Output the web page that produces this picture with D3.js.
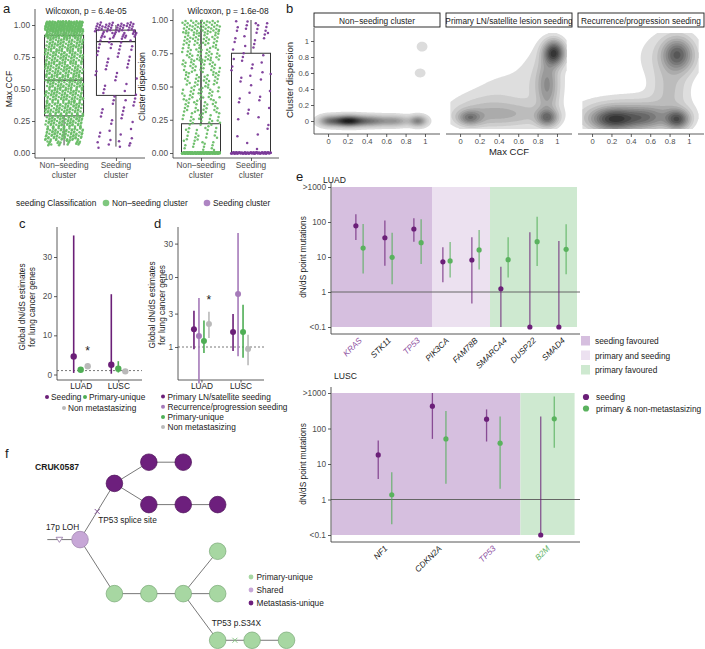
<!DOCTYPE html>
<html><head><meta charset="utf-8">
<script src="https://cdn.jsdelivr.net/npm/d3@7/dist/d3.min.js"></script>
<style>html,body{margin:0;padding:0;background:#fff;} svg{display:block}</style>
</head><body>
<svg id="chart" width="705" height="649" xmlns="http://www.w3.org/2000/svg"></svg>
<script>
// ================= DATA =================
// ---- panel a
const aCategories = ["Non-seeding cluster", "Seeding cluster"];
const aCategoryLines = [["Non\u2013seeding", "cluster"], ["Seeding", "cluster"]];
const aTickValues = [0, 0.25, 0.5, 0.75, 1];
const aTickLabels = ["0.00", "0.25", "0.50", "0.75", "1.00"];
const aTitles = ["Wilcoxon, p = 6.4e-05", "Wilcoxon, p = 1.6e-08"];
const aYLabels = ["Max CCF", "Cluster dispersion"];
// box stats: [lower whisker, Q1, median, Q3, upper whisker]
const maxCcfBoxNonSeeding = [0.06, 0.29, 0.57, 0.92, 1.0];
const maxCcfBoxSeeding    = [0.05, 0.45, 0.87, 0.96, 1.0];
const dispBoxNonSeeding   = [0, 0, 0, 0.22, 1.0];
const dispBoxSeeding      = [0, 0, 0, 0.75, 1.0];
// clusters per value bin: [from, to, count]
const maxCcfBinsNonSeeding = [[0.06,0.1,22],[0.1,0.2,85],[0.2,0.3,85],[0.3,0.4,85],[0.4,0.5,85],[0.5,0.6,85],[0.6,0.7,85],[0.7,0.8,85],[0.8,0.9,90],[0.9,0.95,70],[0.95,1.03,230]];
const maxCcfBinsSeeding    = [[0.04,0.1,7],[0.1,0.2,7],[0.2,0.3,6],[0.3,0.4,7],[0.4,0.5,8],[0.5,0.6,5],[0.6,0.7,7],[0.7,0.8,8],[0.8,0.9,14],[0.9,0.95,20],[0.95,1.02,40]];
const dispBinsNonSeeding   = [[-0.004,0.004,250],[0.02,0.1,14],[0.1,0.2,18],[0.2,0.3,24],[0.3,0.4,26],[0.4,0.5,28],[0.5,0.6,30],[0.6,0.7,32],[0.7,0.8,34],[0.8,0.9,38],[0.9,1.0,50]];
const dispBinsSeeding      = [[-0.004,0.004,120],[0.02,0.1,2],[0.1,0.2,3],[0.2,0.3,4],[0.3,0.4,4],[0.4,0.5,4],[0.5,0.6,6],[0.6,0.7,7],[0.7,0.8,6],[0.8,0.9,8],[0.9,1.0,14]];
const aLegendTitle = "seeding Classification";
const aLegendLabels = ["Non\u2013seeding cluster", "Seeding cluster"];

// ---- panel b (2D density of Max CCF vs Cluster dispersion)
const bFacets = ["Non\u2212seeding cluster", "Primary LN/satellite lesion seeding", "Recurrence/progression seeding"];
const bTicks = [0, 0.2, 0.4, 0.6, 0.8, 1];
const bTickLabels = ["0", "0.2", "0.4", "0.6", "0.8", "1"];
// density modes: [max CCF, dispersion, sd x, sd y, weight]
const bModesNonSeeding = [[0.2,0,0.11,0.045,1.0],[0.45,0,0.12,0.045,0.5],[0.7,0,0.1,0.045,0.35],[0.93,0,0.06,0.045,0.5],[0.0,0,0.07,0.045,0.4],[0.97,0.93,0.045,0.05,0.08],[0.95,0.6,0.045,0.045,0.08]];
const bModesPrimaryLN  = [[0.97,0.85,0.07,0.1,1.0],[0.9,0.45,0.07,0.22,0.4],[0.9,0.04,0.07,0.07,0.6],[0.1,0.04,0.08,0.06,0.5],[0.45,0.08,0.3,0.1,0.25],[0.45,0.4,0.2,0.2,0.07],[0.85,0.5,0.18,0.35,0.12],[0.2,0.15,0.25,0.18,0.12]];
const bModesRecurrence = [[0.22,0.02,0.15,0.09,1.0],[0.88,0.02,0.08,0.08,0.9],[0.88,0.83,0.1,0.13,0.8],[0.55,0.04,0.15,0.09,0.55],[0.4,0.1,0.4,0.15,0.25],[0.8,0.4,0.12,0.2,0.2],[0.8,0.8,0.25,0.25,0.15]];

// ---- panel c
const cGroups = ["LUAD", "LUSC"];
const cSeries = ["Seeding", "Primary-unique", "Non metastasizing"];
const cTicks = [0, 10, 20, 30];
const cLUADest = [4.6, 1.2, 2.1];
const cLUADlo  = [0.4, 0.9, 1.5];
const cLUADhi  = [35.5, 1.6, 2.9];
const cLUSCest = [2.5, 1.5, 0.8];
const cLUSClo  = [0.2, 0.5, 0.55];
const cLUSChi  = [20.5, 3.4, 1.05];

// ---- panel d
const dSeries = ["Primary LN/satellite seeding", "Recurrence/progression seeding", "Primary-unique", "Non metastasizing"];
const dTicks = [1, 3, 10, 30];
const dLUADest = [1.8, 1.44, 1.22, 2.13];
const dLUADlo  = [0.93, 0.3, 0.82, 1.35];
const dLUADhi  = [3.3, 5.0, 2.4, 3.2];
const dLUSCest = [1.64, 5.7, 1.64, 0.94];
const dLUSClo  = [0.88, 0.74, 0.70, 0.55];
const dLUSChi  = [2.96, 42.5, 4.0, 1.5];

// ---- panel e
const eTickValues = [0.1, 1, 10, 100, 1000];
const eTickLabels = ["<0.1", "1", "10", "100", ">1000"];
const eRegionNames = ["seeding favoured", "primary and seeding", "primary favoured"];
const eLUADgenes = ["KRAS", "STK11", "TP53", "PIK3CA", "FAM78B", "SMARCA4", "DUSP22", "SMAD4"];
const eLUADgeneClass = ["seed", "none", "seed", "none", "none", "none", "none", "none"];
const eLUADregions = [[-1, 2.5, 0], [2.5, 4.5, 1], [4.5, 7.5, 2]];
const eLUADseedEst = [78, 35.5, 63, 7.3, 8.2, 1.24, 0.1, 0.1];
const eLUADseedLo  = [30.6, 5.6, 27.3, 1.9, 0.47, 0.1, 0.1, 0.1];
const eLUADseedHi  = [166, 110, 127, 19, 36.5, 5.3, 51, 28.5];
const eLUADprimEst = [18, 9.8, 25.7, 7.7, 15.9, 8.4, 27.4, 16.6];
const eLUADprimLo  = [3.4, 1.66, 6.3, 2.6, 4.4, 2.6, 5.5, 3.2];
const eLUADprimHi  = [88, 49, 120, 27, 59, 36.5, 142, 86];
const eLUSCgenes = ["NF1", "CDKN2A", "TP53", "B2M"];
const eLUSCgeneClass = ["none", "none", "seed", "prim"];
const eLUSCregions = [[-1, 2.5, 0], [2.5, 3.5, 2]];
const eLUSCseedEst = [18, 425, 183, 0.1];
const eLUSCseedLo  = [3.8, 51, 43, 0.1];
const eLUSCseedHi  = [46, 1000, 345, 218];
const eLUSCprimEst = [1.36, 51, 38.5, 187];
const eLUSCprimLo  = [0.2, 2.8, 2.0, 28.6];
const eLUSCprimHi  = [5.9, 310, 218, 800];
const eLegendPoints = ["seeding", "primary & non-metastasizing"];

// ---- panel f (phylogenetic tree CRUK0587)
const fNodeIds  = ["S","A","B","C","D","E","F","G","H","I","J","K","L","M","N"];
const fParents  = [null,"S","A","B","A","D","E","S","G","H","I","I","I","L","M"];
const fTypes    = ["Shared","Metastasis-unique","Metastasis-unique","Metastasis-unique","Metastasis-unique","Metastasis-unique","Metastasis-unique","Primary-unique","Primary-unique","Primary-unique","Primary-unique","Primary-unique","Primary-unique","Primary-unique","Primary-unique"];
const fDepth    = [0,1,2,3,2,3,4,1,2,3,4,4,4,5,6];
const fLane     = [4.65,2,1,1,3,3,3,7.2,7.2,7.2,5.2,7.2,9.4,9.4,9.4];
const fEvents   = [{child:"S", label:"17p LOH", mark:"triangle"}, {child:"A", label:"TP53 splice site", mark:"cross"}, {child:"L", label:"TP53 p.S34X", mark:null}, {child:"M", label:null, mark:"cross"}];
const fLegend = ["Primary-unique", "Shared", "Metastasis-unique"];

// ================= DRAWING =================
const svg = d3.select("#chart");
const FONT = "'Liberation Sans', Arial, Helvetica, sans-serif";
const TXT = "#1a1a1a", TICK = "#4d4d4d", AX = "#333";
const GREEN_PT = "#69bd67", PURPLE_PT = "#7b3a98";
const DPURP = "#6b1f78", LPURP = "#a57ab9", GREEN = "#4fae55", GREY = "#b9b9b9";
const frac = v => v - Math.floor(v);

function txt(g, x, y, s, o = {}) {
  return g.append("text").attr("x", x).attr("y", y).text(s)
    .attr("font-family", FONT).attr("font-size", o.size || 8.3)
    .attr("fill", o.fill || TXT).attr("text-anchor", o.anchor || "start")
    .attr("font-weight", o.weight || null).attr("font-style", o.style || null);
}
function line(g, x1, y1, x2, y2, col = AX, w = 0.8, dash = null) {
  return g.append("line").attr("x1", x1).attr("y1", y1).attr("x2", x2).attr("y2", y2)
    .attr("stroke", col).attr("stroke-width", w).attr("stroke-dasharray", dash);
}
function styleAxis(ax, fs) {
  ax.select(".domain").remove();
  ax.selectAll(".tick line").attr("stroke", AX).attr("stroke-width", 0.8);
  ax.selectAll(".tick text").attr("fill", TICK).attr("font-size", fs).attr("font-family", FONT);
}

// panel labels
[["a",3,13],["b",286,13],["c",19,228],["d",154,228],["e",296,181],["f",5,458]].forEach(([l,x,y]) => txt(svg, x, y, l, {size: 13}));

// ---------- panel a ----------
function drawA(o) {
  const g = svg.append("g");
  const x = d3.scalePoint().domain(aCategories).range(o.xr).padding(0.56);
  const y = d3.scaleLinear().domain([0, 1]).range(o.yr);
  line(g, o.xr[0], o.top, o.xr[0], o.base);
  line(g, o.xr[0], o.base, o.xr[1], o.base);
  styleAxis(g.append("g").attr("transform", `translate(${o.xr[0]},0)`)
    .call(d3.axisLeft(y).tickValues(aTickValues).tickFormat((d, i) => aTickLabels[i]).tickSize(3).tickPadding(2)), 8.3);
  styleAxis(g.append("g").attr("transform", `translate(0,${o.base})`)
    .call(d3.axisBottom(x).tickSize(3).tickFormat("")), 8);
  aCategories.forEach((c, i) => {
    txt(g, x(c), o.base + 10, aCategoryLines[i][0], {anchor: "middle", fill: TICK});
    txt(g, x(c), o.base + 20, aCategoryLines[i][1], {anchor: "middle", fill: TICK});
  });
  o.boxes.forEach((b, i) => {
    const cx = x(aCategories[i]), hw = o.bw / 2;
    line(g, cx, y(b[0]), cx, y(b[1]), "#444", 1);
    line(g, cx, y(b[3]), cx, y(b[4]), "#444", o.upperW ? o.upperW[i] : 1);
    g.append("rect").attr("x", cx - hw).attr("y", y(b[3])).attr("width", o.bw).attr("height", Math.max(0.5, y(b[1]) - y(b[3])))
      .attr("fill", "none").attr("stroke", "#333").attr("stroke-width", 1);
    line(g, cx - hw, y(b[2]), cx + hw, y(b[2]), "#333", 1.2);
  });
  o.bins.forEach((bins, i) => {
    const cx = x(aCategories[i]); let k = 0;
    const pts = [];
    bins.forEach(([lo, hi, n]) => { for (let m = 0; m < n; m++) { k++; pts.push([cx + (frac(0.31 + k * 0.7548776662) * 2 - 1) * o.jw[i], y(lo + (hi - lo) * frac(0.17 + k * 0.5698402910))]); } });
    g.selectAll(null).data(pts).join("circle").attr("cx", d => d[0]).attr("cy", d => d[1]).attr("r", 1.25)
      .attr("fill", o.colors[i]).attr("opacity", 0.95);
  });
  txt(g, o.titleX, 14, o.title, {anchor: "middle", size: 8.4});
  txt(g, 0, 0, o.ylab, {anchor: "middle", size: 8.6}).attr("transform", `translate(${o.ylabX},${(o.yr[0] + o.yr[1]) / 2}) rotate(-90)`);
}
drawA({xr: [35, 145], yr: [153, 25], top: 9, base: 158, bw: 39, jw: [19, 21], boxes: [maxCcfBoxNonSeeding, maxCcfBoxSeeding],
  bins: [maxCcfBinsNonSeeding, maxCcfBinsSeeding], colors: [GREEN_PT, PURPLE_PT], title: aTitles[0], titleX: 86, ylab: aYLabels[0], ylabX: 12});
drawA({xr: [173, 279], yr: [153, 20], top: 9, base: 158, bw: 39, jw: [19, 20], upperW: [1.6, 1], boxes: [dispBoxNonSeeding, dispBoxSeeding],
  bins: [dispBinsNonSeeding, dispBinsSeeding], colors: [GREEN_PT, PURPLE_PT], title: aTitles[1], titleX: 228, ylab: aYLabels[1], ylabX: 145});

// legend a
{
  const g = svg.append("g");
  txt(g, 16, 206, aLegendTitle);
  const xs = [106, 207];
  aLegendLabels.forEach((l, i) => {
    g.append("circle").attr("cx", xs[i]).attr("cy", 203).attr("r", 3.3).attr("fill", [GREEN_PT, "#a070b8"][i]).attr("opacity", 0.85);
    txt(g, xs[i] + 6, 206, l);
  });
}

// ---------- panel b ----------
function drawB(i, modes, opt) {
  const g = svg.append("g");
  const left = [314, 446, 578][i], W = 126;
  const x = d3.scaleLinear().domain([-0.145, 1.155]).range([left, left + W]);
  const y = d3.scaleLinear().domain([-0.1625, 1.1625]).range([134, 28]);
  const [gx0, gx1, gy0, gy1] = opt.grid, nx = opt.n, ny = opt.n;
  const vals = new Float64Array(nx * ny);
  for (let j = 0; j < ny; j++) {
    const yy = gy1 - (j + 0.5) / ny * (gy1 - gy0);
    for (let k = 0; k < nx; k++) {
      const xx = gx0 + (k + 0.5) / nx * (gx1 - gx0);
      let s = 0;
      for (const m of modes) { const dx = (xx - m[0]) / m[2], dy = (yy - m[1]) / m[3]; s += m[4] * Math.exp(-0.5 * (dx * dx + dy * dy)); }
      vals[j * nx + k] = s;
    }
  }
  const mx = d3.max(vals);
  const th = opt.levels.map(f => f * mx);
  const cs = d3.contours().size([nx, ny]).thresholds(th)(vals);
  const proj = d3.geoTransform({point(px, py) { this.stream.point(x(gx0 + px / nx * (gx1 - gx0)), y(gy1 - py / ny * (gy1 - gy0))); }});
  const path = d3.geoPath(proj);
  const col = d3.interpolateRgb(opt.c0, opt.c1);
  g.selectAll(null).data(cs).join("path").attr("d", path).attr("fill", (d, k) => col(k / (th.length - 1))).attr("stroke", "none");
  const cid = "clipStrip" + i;
  svg.append("clipPath").attr("id", cid).append("rect").attr("x", left).attr("y", 13).attr("width", W).attr("height", 14);
  g.append("rect").attr("x", left).attr("y", 13).attr("width", W).attr("height", 14).attr("fill", "#fff").attr("stroke", "#1a1a1a").attr("stroke-width", 0.9);
  txt(g, left + W / 2, 23.5, bFacets[i], {anchor: "middle", size: 8.3}).attr("clip-path", `url(#${cid})`);
  line(g, left, 134, left + W, 134);
  styleAxis(g.append("g").attr("transform", "translate(0,134)").call(d3.axisBottom(x).tickValues(bTicks).tickFormat((d, k) => bTickLabels[k]).tickSize(3).tickPadding(2)), 7.6);
  if (i === 0) {
    line(g, left, 28, left, 134);
    styleAxis(g.append("g").attr("transform", `translate(${left},0)`).call(d3.axisLeft(y).tickValues(bTicks).tickFormat((d, k) => bTickLabels[k]).tickSize(3).tickPadding(2)), 7.6);
  }
}
drawB(0, bModesNonSeeding, {grid: [-0.145, 1.155, -0.16, 1.16], n: 160, levels: d3.range(20).map(k => 0.035 + k * 0.048), c0: "#dcdcdc", c1: "#1c1c1c"});
const bLevels = [0.06, 0.12, 0.19, 0.27, 0.35, 0.44, 0.53, 0.62, 0.72, 0.82, 0.92];
drawB(1, bModesPrimaryLN, {grid: [-0.1, 1.1, -0.1, 1.1], n: 110, levels: bLevels, c0: "#dedede", c1: "#353535"});
drawB(2, bModesRecurrence, {grid: [-0.1, 1.1, -0.1, 1.1], n: 110, levels: bLevels, c0: "#dedede", c1: "#353535"});
txt(svg, 509, 155, "Max CCF", {anchor: "middle", size: 9.5});
txt(svg, 0, 0, "Cluster dispersion", {anchor: "middle", size: 9.5}).attr("transform", "translate(293,80) rotate(-90)");

// ---------- panel c & d ----------
function drawCD(o) {
  const g = svg.append("g");
  const x = d3.scalePoint().domain(cGroups).range(o.xr).padding(o.pad);
  const y = o.y;
  line(g, o.xr[0], 227, o.xr[0], 380);
  line(g, o.xr[0], 380, o.xr[1], 380);
  styleAxis(g.append("g").attr("transform", `translate(${o.xr[0]},0)`).call(d3.axisLeft(y).tickValues(o.ticks).tickFormat(d3.format("d")).tickSize(3).tickPadding(2)), 8.3);
  const xa = g.append("g").attr("transform", "translate(0,380)").call(d3.axisBottom(x).tickSize(2.5).tickPadding(1));
  styleAxis(xa, 8.3);
  xa.selectAll(".tick text").attr("fill", TXT);
  line(g, o.xr[0], y(1), o.xr[1], y(1), "#555", 0.8, "2,2");
  cGroups.forEach((grp, gi) => {
    const est = o.est[gi], lo = o.lo[gi], hi = o.hi[gi];
    est.forEach((v, si) => {
      const cx = x(grp) + o.off[si];
      line(g, cx, y(lo[si]), cx, y(hi[si]), o.colors[si], 1.6);
      g.append("circle").attr("cx", cx).attr("cy", y(v)).attr("r", o.r).attr("fill", o.colors[si]);
    });
  });
  txt(g, x("LUAD") + o.off[o.starIdx], y(o.starAt), "*", {anchor: "middle", size: 12});
  txt(g, 0, 0, "Global dN/dS estimates", {anchor: "middle", size: 8.3}).attr("transform", `translate(${o.labX},${o.labY}) rotate(-90)`);
  txt(g, 0, 0, "for lung cancer genes", {anchor: "middle", size: 8.3}).attr("transform", `translate(${o.labX + 9.5},${o.labY}) rotate(-90)`);
}
drawCD({xr: [57, 142], pad: 0.63, y: d3.scaleLinear().domain([0, 30]).range([374.5, 257]), ticks: cTicks,
  est: [cLUADest, cLUSCest], lo: [cLUADlo, cLUSClo], hi: [cLUADhi, cLUSChi], off: [-7, 0, 7], r: 3.2,
  colors: [DPURP, GREEN, GREY], starIdx: 2, starAt: 2.1 + 2.8, labX: 25, labY: 307});
drawCD({xr: [178, 264], pad: 0.6, y: d3.scaleLog().domain([1, 10]).range([347, 277]), ticks: dTicks,
  est: [dLUADest, dLUSCest], lo: [dLUADlo, dLUSClo], hi: [dLUADhi, dLUSChi], off: [-7.5, -2.5, 2.5, 7.5], r: 3,
  colors: [DPURP, LPURP, GREEN, GREY], starIdx: 3, starAt: 4.1, labX: 155, labY: 305});
{
  const g = svg.append("g");
  g.append("circle").attr("cx", 47).attr("cy", 397).attr("r", 2).attr("fill", DPURP); txt(g, 51, 400, cSeries[0]);
  g.append("circle").attr("cx", 85).attr("cy", 397).attr("r", 2).attr("fill", GREEN); txt(g, 89, 400, cSeries[1]);
  g.append("circle").attr("cx", 64).attr("cy", 408).attr("r", 2).attr("fill", GREY); txt(g, 68, 411, cSeries[2]);
  const cols = [DPURP, LPURP, GREEN, GREY];
  dSeries.forEach((s, i) => {
    const yy = 396.5 + i * 10.2;
    g.append("circle").attr("cx", 163).attr("cy", yy).attr("r", 2).attr("fill", cols[i]);
    txt(g, 167.5, yy + 3, s);
  });
}

// ---------- panel e ----------
const regionFill = ["#d6bfdf", "#ece1f0", "#cee9d0"];
function drawE(o) {
  const g = svg.append("g");
  const x = d3.scaleLinear().domain([0, o.genes.length - 1]).range(o.xr);
  const y = d3.scaleLog().domain([0.1, 1000]).range(o.yr).clamp(true);
  o.regions.forEach(([a, b, t]) => {
    const x0 = Math.max(x(a), o.axX + 0.5);
    g.append("rect").attr("x", x0).attr("y", y(1000)).attr("width", x(b) - x0).attr("height", y(0.1) - y(1000)).attr("fill", regionFill[t]);
  });
  line(g, o.axX, y(1), 580, y(1), "#666", 1);
  line(g, o.axX, o.top, o.axX, o.base, "#444", 0.9);
  line(g, o.axX, o.base, 580, o.base, "#444", 0.9);
  styleAxis(g.append("g").attr("transform", `translate(${o.axX},0)`).call(d3.axisLeft(y).tickValues(eTickValues).tickFormat((d, i) => eTickLabels[i]).tickSize(3).tickPadding(2)), 8.3);
  const dodge = x(0.125) - x(0);
  o.genes.forEach((gname, i) => {
    const cx = x(i);
    line(g, cx + dodge, y(o.pLo[i]), cx + dodge, y(o.pHi[i]), GREEN, 1.3).attr("opacity", 0.72);
    line(g, cx - dodge, y(o.sLo[i]), cx - dodge, y(o.sHi[i]), DPURP, 1.3).attr("opacity", 0.72);
    g.append("circle").attr("cx", cx - dodge).attr("cy", y(o.sEst[i])).attr("r", 2.6).attr("fill", DPURP);
    g.append("circle").attr("cx", cx + dodge).attr("cy", y(o.pEst[i])).attr("r", 2.6).attr("fill", "#5ab25e");
    const fc = o.cls[i] === "seed" ? "#8d4f9f" : o.cls[i] === "prim" ? "#62b366" : TXT;
    txt(g, 0, 0, gname, {anchor: "end", style: "italic", fill: fc, size: 8.3}).attr("transform", `translate(${cx + 3},${o.base + 7}) rotate(-45)`);
  });
  txt(g, o.titleX, o.titleY, o.title, {size: 8.6});
  txt(g, 0, 0, "dN/dS point mutations", {anchor: "middle", size: 8.3}).attr("transform", `translate(306,${(o.yr[0] + o.yr[1]) / 2}) rotate(-90)`);
}
drawE({genes: eLUADgenes, cls: eLUADgeneClass, regions: eLUADregions, xr: [359.5, 562.5], yr: [327, 187], axX: 331, top: 183, base: 334,
  sEst: eLUADseedEst, sLo: eLUADseedLo, sHi: eLUADseedHi, pEst: eLUADprimEst, pLo: eLUADprimLo, pHi: eLUADprimHi, title: "LUAD", titleX: 323, titleY: 183});
drawE({genes: eLUSCgenes, cls: eLUSCgeneClass, regions: eLUSCregions, xr: [385, 547.5], yr: [535, 393], axX: 331, top: 387, base: 542,
  sEst: eLUSCseedEst, sLo: eLUSCseedLo, sHi: eLUSCseedHi, pEst: eLUSCprimEst, pLo: eLUSCprimLo, pHi: eLUSCprimHi, title: "LUSC", titleX: 334, titleY: 379});
{
  const g = svg.append("g");
  eRegionNames.forEach((n, i) => {
    const yy = 341 + i * 14.5;
    g.append("rect").attr("x", 581).attr("y", yy - 5).attr("width", 9).attr("height", 9.5).attr("fill", regionFill[i]);
    txt(g, 595, yy + 3, n);
  });
  eLegendPoints.forEach((n, i) => {
    const yy = 397 + i * 11.5;
    g.append("circle").attr("cx", 586).attr("cy", yy).attr("r", 3.1).attr("fill", [DPURP, "#5ab25e"][i]);
    txt(g, 596, yy + 3, n);
  });
}

// ---------- panel f ----------
{
  const g = svg.append("g");
  const xs = d3.scaleLinear().domain([0, 6]).range([80, 286.5]);
  const ys = d3.scaleLinear().domain([0, 10]).range([441, 653]);
  const fill = {"Primary-unique": "#a7d7a2", "Shared": "#c7a7d7", "Metastasis-unique": "#6d1f7d"};
  const stroke = {"Primary-unique": "#78a875", "Shared": "#9b7fab", "Metastasis-unique": "#4d1259"};
  const pos = {};
  fNodeIds.forEach((id, i) => pos[id] = [xs(fDepth[i]), ys(fLane[i])]);
  const rootStart = [xs(-0.95), ys(fLane[0])];
  line(g, rootStart[0], rootStart[1], pos.S[0], pos.S[1], "#555", 0.8);
  fNodeIds.forEach((id, i) => { const p = fParents[i]; if (p) line(g, pos[p][0], pos[p][1], pos[id][0], pos[id][1], "#555", 0.8); });
  fNodeIds.forEach((id, i) => g.append("circle").attr("cx", pos[id][0]).attr("cy", pos[id][1]).attr("r", 8.3).attr("fill", fill[fTypes[i]]).attr("stroke", stroke[fTypes[i]]).attr("stroke-width", 0.7));
  fEvents.forEach(ev => {
    const i = fNodeIds.indexOf(ev.child), p = fParents[i];
    const a = p ? pos[p] : rootStart, b = pos[ev.child];
    const t = p ? 0.5 : 0.37;
    const mx = a[0] + (b[0] - a[0]) * t, my = a[1] + (b[1] - a[1]) * t;
    if (ev.mark === "cross") {
      const c = fTypes[i] === "Primary-unique" ? "#7fc27b" : "#7d4a92";
      line(g, mx - 2.5, my - 2.5, mx + 2.5, my + 2.5, c, 0.9); line(g, mx - 2.5, my + 2.5, mx + 2.5, my - 2.5, c, 0.9);
    } else if (ev.mark === "triangle") {
      g.append("path").attr("d", `M${mx - 3.3},${my - 2.3}L${mx + 3.3},${my - 2.3}L${mx},${my + 2.8}Z`).attr("fill", "#fff").attr("stroke", "#9b7fab").attr("stroke-width", 0.9);
    }
    if (ev.label) {
      if (ev.mark === "triangle") txt(g, 46, 530, ev.label);
      else if (ev.mark === "cross") txt(g, mx + 1, my + 12, ev.label);
      else txt(g, pos[ev.child][0] - 6, pos[ev.child][1] - 14, ev.label);
    }
  });
  txt(g, 35, 470, "CRUK0587", {weight: "bold", size: 8.6});
  fLegend.forEach((n, i) => {
    const yy = 577 + i * 13;
    g.append("circle").attr("cx", 251).attr("cy", yy).attr("r", 2.4).attr("fill", fill[n]);
    txt(g, 256.5, yy + 3, n);
  });
}
</script>
</body></html>
